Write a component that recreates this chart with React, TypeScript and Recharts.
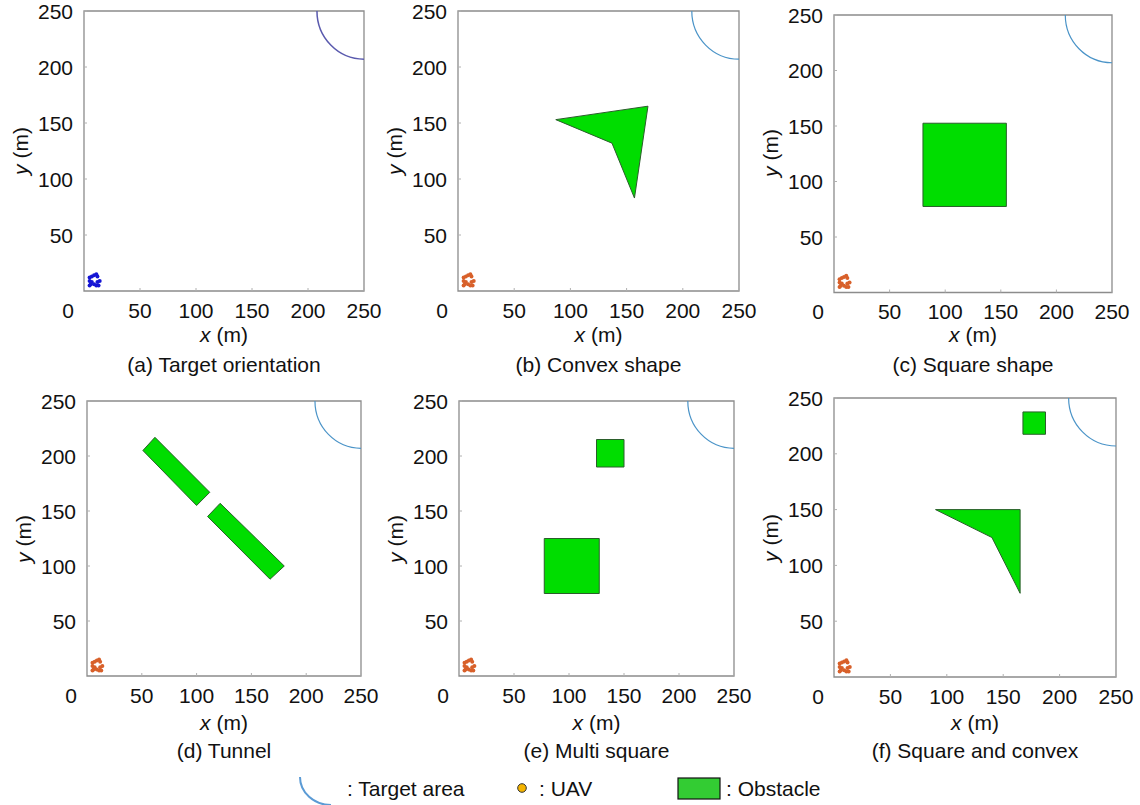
import React from 'react';
import { ScatterChart, Scatter, XAxis, YAxis, ReferenceArea } from 'recharts';

type Pt = { x: number; y: number };

const FONT = '"Liberation Sans", Arial, sans-serif';

const xTicks = [0, 50, 100, 150, 200, 250];
const yTicks = [50, 100, 150, 200, 250];

// target area: centre, point on the top edge, point on the right edge
const targetArc: Pt[] = [
  { x: 250, y: 250 },
  { x: 208, y: 250 },
  { x: 250, y: 207 },
];

// initial UAV swarm near the origin
const uavSwarm: Pt[] = [
  { x: 5, y: 12 }, { x: 7, y: 13 }, { x: 9, y: 14 }, { x: 11, y: 15 },
  { x: 12, y: 13 }, { x: 5, y: 9 }, { x: 7, y: 8 }, { x: 5, y: 5 },
  { x: 9, y: 6 }, { x: 11, y: 5 }, { x: 13, y: 5 }, { x: 12, y: 8 },
  { x: 14, y: 9 }, { x: 6, y: 6 },
];

// obstacles (polygon vertices, metres)
const convexB: Pt[] = [{ x: 87, y: 153 }, { x: 169, y: 165 }, { x: 157, y: 83 }, { x: 137, y: 132 }];
const squareC: Pt[] = [{ x: 80, y: 77.5 }, { x: 80, y: 152.5 }, { x: 155, y: 152.5 }, { x: 155, y: 77.5 }];
const tunnelD1: Pt[] = [{ x: 51, y: 205 }, { x: 62, y: 217 }, { x: 112, y: 167 }, { x: 100, y: 155 }];
const tunnelD2: Pt[] = [{ x: 110, y: 145 }, { x: 121.5, y: 157 }, { x: 180, y: 100 }, { x: 167, y: 88 }];
const squareE1: Pt[] = [{ x: 77.5, y: 75 }, { x: 77.5, y: 125 }, { x: 127.5, y: 125 }, { x: 127.5, y: 75 }];
const squareE2: Pt[] = [{ x: 125, y: 190 }, { x: 125, y: 215 }, { x: 150, y: 215 }, { x: 150, y: 190 }];
const squareF: Pt[] = [{ x: 167.5, y: 217.5 }, { x: 167.5, y: 237.5 }, { x: 187.5, y: 237.5 }, { x: 187.5, y: 217.5 }];
const convexF: Pt[] = [{ x: 90, y: 150 }, { x: 165, y: 150 }, { x: 165, y: 75 }, { x: 140, y: 125 }];

const captions = [
  '(a) Target orientation',
  '(b) Convex shape',
  '(c) Square shape',
  '(d) Tunnel',
  '(e) Multi square',
  '(f) Square and convex',
];

const obstacleSets: Pt[][][] = [
  [],
  [convexB],
  [squareC],
  [tunnelD1, tunnelD2],
  [squareE1, squareE2],
  [squareF, convexF],
];

// plot boxes in page pixels
const panels = [
  { l: 84, t: 11, w: 280, h: 280, row: 0 },
  { l: 458, t: 11, w: 281, h: 280, row: 0 },
  { l: 834, t: 14.5, w: 278, h: 277.5, row: 0 },
  { l: 87, t: 401, w: 274, h: 275, row: 1 },
  { l: 459, t: 401, w: 275, h: 275, row: 1 },
  { l: 834, t: 398, w: 282, h: 279, row: 1 },
];
const rowText = [
  { xlabel: 335, caption: 364.5 },
  { xlabel: 722.5, caption: 750.5 },
];

const GREEN = '#00dd00';
const EDGE = '#2b5e2b';
const BORDER = '#8c8c8c';
const TICK = '#b0b0b0';

const XTick = (props: any) => {
  const { x, y, payload } = props;
  const v = payload.value;
  return (
    <g>
      {v !== 0 && <line x1={x} x2={x} y1={y} y2={y - 3} stroke={TICK} />}
      <text x={v === 0 ? x - 16 : x} y={y + 19} textAnchor="middle" dominantBaseline="central"
        fontSize={21} fill="#111" fontFamily={FONT}>{v}</text>
    </g>
  );
};

const YTick = (props: any) => {
  const { x, y, payload } = props;
  return (
    <g>
      <line x1={x} x2={x + 3} y1={y} y2={y} stroke={TICK} />
      <text x={x - 11} y={y} textAnchor="end" dominantBaseline="central"
        fontSize={21} fill="#111" fontFamily={FONT}>{payload.value}</text>
    </g>
  );
};

const noDot = () => <g />;

const polygonLine = (lp: any) => (
  <polygon
    points={lp.points.map((p: any) => `${p.x},${p.y}`).join(' ')}
    fill={GREEN}
    stroke={EDGE}
    strokeWidth={1}
  />
);

const arcLine = (color: string, width: number) => (lp: any) => {
  const [c, a, b] = lp.points;
  const rx = c.x - a.x;
  const ry = b.y - c.y;
  return (
    <path d={`M${a.x},${a.y} A${rx},${ry} 0 0 0 ${b.x},${b.y}`} fill="none" stroke={color} strokeWidth={width} />
  );
};

const uavDot = (color: string) => (sp: any) => <circle cx={sp.cx} cy={sp.cy} r={2} fill={color} />;

const Panel = ({ idx }: { idx: number }) => {
  const p = panels[idx];
  const L = 70, T = 10, R = 30, B = 40;
  const first = idx === 0;
  const arcColor = first ? '#5a5aae' : '#4b94c8';
  const uavColor = first ? '#1414d4' : '#d8602a';
  const rt = rowText[p.row];
  const cx = p.l + p.w / 2;
  return (
    <>
      <div style={{ position: 'absolute', left: p.l - L, top: p.t - T }}>
        <ScatterChart width={L + p.w + R} height={T + p.h + B} margin={{ top: T, right: R, bottom: 0, left: 0 }}>
          <XAxis type="number" dataKey="x" domain={[0, 250]} ticks={xTicks} interval={0} allowDataOverflow
            height={B} axisLine={false} tickLine={false} tickSize={0} tickMargin={0} tick={<XTick />} />
          <YAxis type="number" dataKey="y" domain={[0, 250]} ticks={yTicks} interval={0} allowDataOverflow
            width={L} axisLine={false} tickLine={false} tickSize={0} tickMargin={0} tick={<YTick />} />
          <ReferenceArea x1={0} x2={250} y1={0} y2={250} fill="none" fillOpacity={0}
            stroke={BORDER} strokeWidth={1.3} ifOverflow="visible" />
          {obstacleSets[idx].map((poly, i) => (
            <Scatter key={`obs-${i}`} data={poly} shape={noDot} line={polygonLine}
              lineType="joint" isAnimationActive={false} legendType="none" />
          ))}
          <Scatter data={targetArc} shape={noDot} line={arcLine(arcColor, first ? 1.5 : 1.2)}
            lineType="joint" isAnimationActive={false} legendType="none" />
          <Scatter data={uavSwarm} fill={uavColor} shape={uavDot(uavColor)}
            isAnimationActive={false} legendType="none" />
        </ScatterChart>
      </div>
      <div style={{ position: 'absolute', left: cx, top: rt.xlabel, transform: 'translate(-50%,-50%)', fontSize: 21, whiteSpace: 'nowrap', color: '#111' }}>
        <i>x</i> (m)
      </div>
      <div style={{ position: 'absolute', left: p.l - 63, top: p.t + p.h / 2, transform: 'translate(-50%,-50%) rotate(-90deg)', fontSize: 21, whiteSpace: 'nowrap', color: '#111' }}>
        <i>y</i> (m)
      </div>
      <div style={{ position: 'absolute', left: cx, top: rt.caption, transform: 'translate(-50%,-50%)', fontSize: 21, whiteSpace: 'nowrap', color: '#111' }}>
        {captions[idx]}
      </div>
    </>
  );
};

const Legend = () => (
  <svg style={{ position: 'absolute', left: 0, top: 760 }} width={1140} height={45}>
    <path d="M300,17 A31,28 0 0 0 331,45" fill="none" stroke="#5b9bd5" strokeWidth={2} />
    <text x={347} y={28} dominantBaseline="central" fontSize={21} fill="#111" fontFamily={FONT}>: Target area</text>
    <circle cx={522} cy={28} r={4.3} fill="#f5b400" stroke="#333" strokeWidth={1} />
    <text x={539} y={28} dominantBaseline="central" fontSize={21} fill="#111" fontFamily={FONT}>: UAV</text>
    <rect x={678} y={18} width={42} height={21} fill="#33cc33" stroke="#111" strokeWidth={1.2} />
    <text x={726} y={28} dominantBaseline="central" fontSize={21} fill="#111" fontFamily={FONT}>: Obstacle</text>
  </svg>
);

export default function App() {
  return (
    <div style={{ position: 'absolute', left: 0, top: 0, width: 1140, height: 805, background: '#fff', fontFamily: FONT, overflow: 'hidden' }}>
      {panels.map((_, i) => <Panel key={i} idx={i} />)}
      <Legend />
    </div>
  );
}
